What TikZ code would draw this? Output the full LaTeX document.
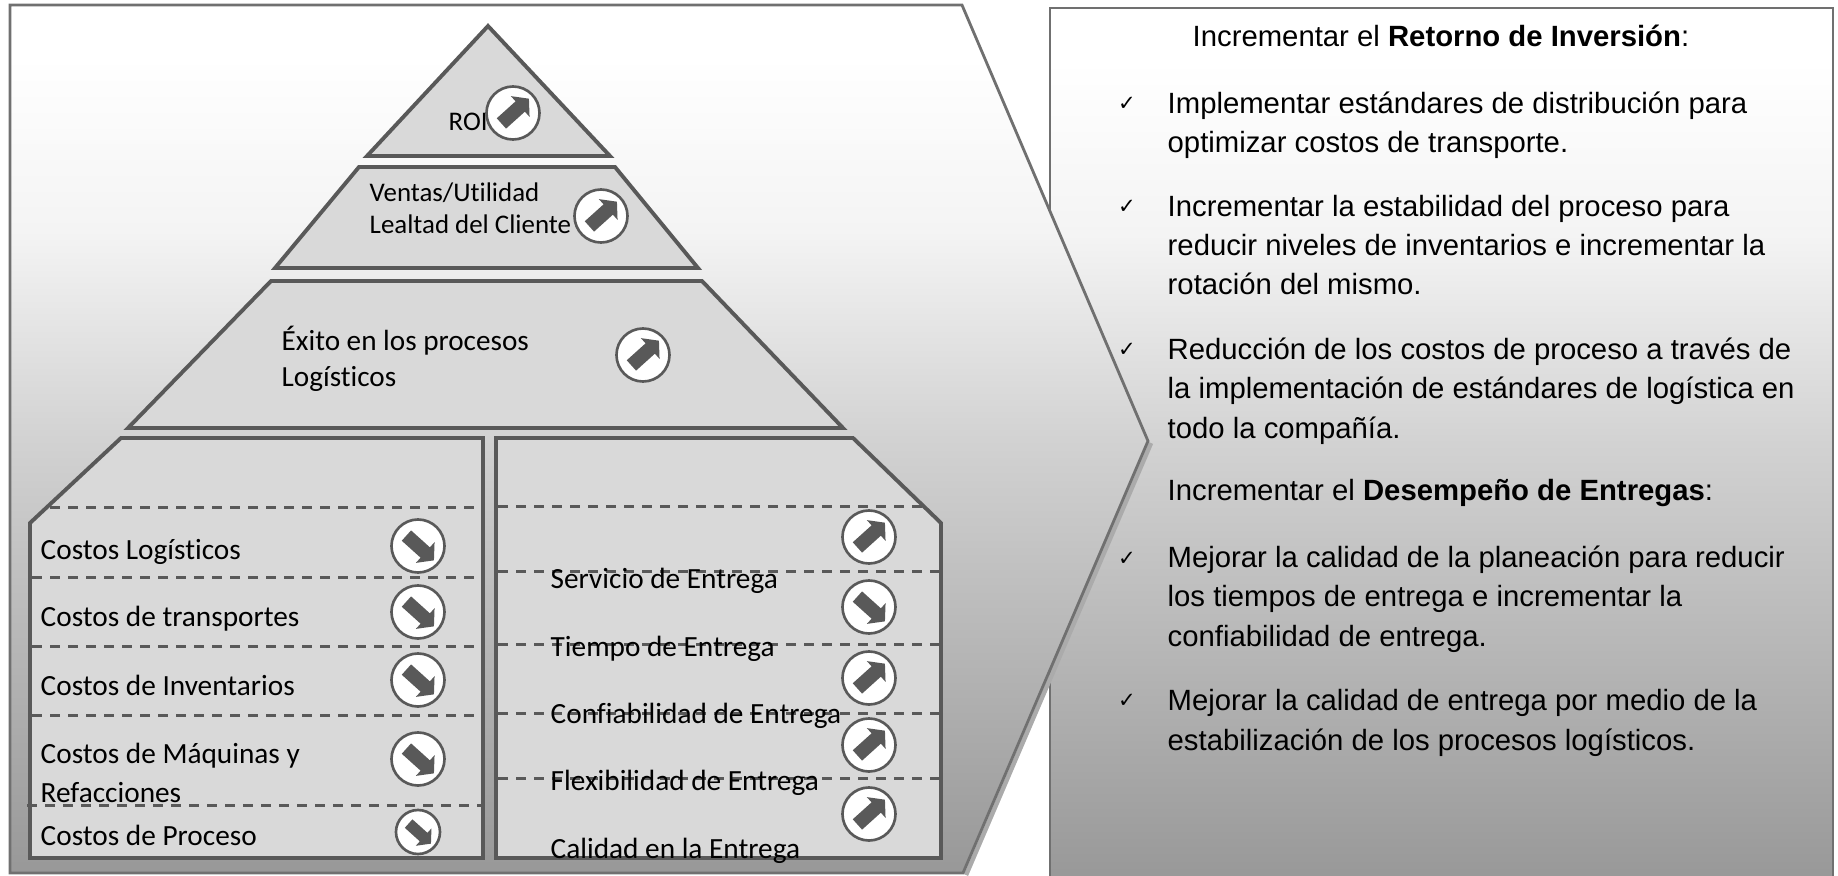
\documentclass[tikz,border=0pt]{standalone}
\usepackage{fontspec}
\setmainfont{Liberation Sans}
\newfontfamily\labelfont[Ligatures=NoCommon]{Carlito}
\newfontfamily\checkfont{DejaVu Sans}
\usetikzlibrary{shapes.arrows}

\definecolor{linegray}{HTML}{595959}
\definecolor{edgegray}{HTML}{707070}
\definecolor{fillgray}{HTML}{D9D9D9}
\definecolor{shadowgray}{HTML}{ABABAB}
\definecolor{fadetop}{HTML}{FFFFFF}
\definecolor{fadeup}{HTML}{F4F4F4}
\definecolor{fademid}{HTML}{D2D2D2}
\definecolor{fadelow}{HTML}{989898}
\pgfdeclareverticalshading{panelfade}{100bp}{color(0bp)=(fadelow); color(25bp)=(fadelow); color(50bp)=(fademid); color(62bp)=(fadeup); color(72bp)=(fadetop); color(100bp)=(fadetop)}

\tikzset{
  panel/.style={draw=edgegray, line width=.8pt, shading=panelfade},
  block/.style={draw=linegray, line width=1.1pt, fill=fillgray, line join=miter},
  divider/.style={draw=linegray, line width=.85pt, dash pattern=on 2.85pt off 2.27pt},
  label/.style={font=\labelfont\fontsize{8.33}{11.3}\selectfont, anchor=west, align=left, inner sep=0pt},
  toplabel/.style={label, font=\labelfont\fontsize{7.65}{9.2}\selectfont},
  para/.style={font=\fontsize{8.33}{11.2}\selectfont, anchor=west, align=left, inner sep=0pt},
  tick/.style={font=\checkfont\fontsize{6}{6}\selectfont, inner sep=0pt},
  badge/.style={circle, draw=linegray, line width=.75pt, fill=white, minimum size=.53cm, inner sep=0pt},
  smallbadge/.style={badge, minimum size=.44cm},
  trend/.style={single arrow, fill=linegray, inner sep=0pt, text height=.125cm, text depth=0pt, text width=0pt, minimum width=.27cm, minimum height=.37cm, single arrow tip angle=100, single arrow head extend=.07cm},
}

\begin{document}
\begin{tikzpicture}[x=.01cm, y=-.01cm]
  \useasboundingbox (0,0) rectangle (1838,875);

  % define the coordinates
  \coordinate (TL) at (10,5);
  \coordinate (TR) at (962,5);
  \coordinate (Tip) at (1148,441);
  \coordinate (BR) at (963,873);
  \coordinate (BL) at (10,873);

  % draw the panels
  \draw[panel] (1050,8) rectangle (1833,880);
  \draw[shadowgray, line width=1.3pt] ([shift={(3,2)}]Tip) -- ([shift={(3,2)}]BR);
  \draw[panel] (TL) -- (TR) -- (Tip) -- (BR) -- (BL) -- cycle;

  % draw the pyramid
  \draw[block] (488,26) -- (610,156) -- (367,156) -- cycle;
  \draw[block] (359,167) -- (615,167) -- (698,268) -- (275,268) -- cycle;
  \draw[block] (271,281) -- (702,281) -- (843,428) -- (128,428) -- cycle;
  \draw[block] (121,438) -- (483,438) -- (483,858) -- (30,858) -- (30,523) -- cycle;
  \draw[block] (496,438) -- (853,438) -- (941,523) -- (941,858) -- (496,858) -- cycle;

  % draw the dashed lines
  \coordinate (A1) at (50,507);   \coordinate (A2) at (481,507);
  \coordinate (B1) at (32,577);   \coordinate (B2) at (481,577);
  \coordinate (C1) at (32,646);   \coordinate (C2) at (481,646);
  \coordinate (D1) at (32,715);   \coordinate (D2) at (481,715);
  \coordinate (E1) at (27,805);   \coordinate (E2) at (481,805);
  \coordinate (F1) at (498,506);  \coordinate (F2) at (925,506);
  \coordinate (G1) at (498,571);  \coordinate (G2) at (939,571);
  \coordinate (H1) at (498,644);  \coordinate (H2) at (939,644);
  \coordinate (I1) at (498,713);  \coordinate (I2) at (939,713);
  \coordinate (J1) at (498,778);  \coordinate (J2) at (939,778);
  \draw[divider] (A1) -- (A2);
  \draw[divider] (B1) -- (B2);
  \draw[divider] (C1) -- (C2);
  \draw[divider] (D1) -- (D2);
  \draw[divider] (E1) -- (E2);
  \draw[divider] (F1) -- (F2);
  \draw[divider] (G1) -- (G2);
  \draw[divider] (H1) -- (H2);
  \draw[divider] (I1) -- (I2);
  \draw[divider] (J1) -- (J2);

  % labels of the pyramid
  \node[toplabel] (roi) at (448,122) {ROI};
  \node[toplabel] (ventas) at (369,208) {Ventas/Utilidad\\Lealtad del Cliente};
  \node[label, font=\labelfont\fontsize{8.3}{10.4}\selectfont] (exito) at (281,359) {Éxito en los procesos\\Logísticos};
  \node[label] (logisticos) at (40,552) {Costos Logísticos};
  \node[label] (transportes) at (40,619) {Costos de transportes};
  \node[label] (inventarios) at (40,685) {Costos de Inventarios};
  \node[label] (maquinas) at (40,773) {Costos de Máquinas y\\Refacciones};
  \node[label] (proceso) at (40,835) {Costos de Proceso};
  \node[label] (servicio) at (550,581) {Servicio de Entrega};
  \node[label] (tiempo) at (550,649) {Tiempo de Entrega};
  \node[label] (confiabilidad) at (550,716) {Confiabilidad de Entrega};
  \node[label] (flexibilidad) at (550,783) {Flexibilidad de Entrega};
  \node[label] (calidad) at (550,851) {Calidad en la Entrega};

  % badges with the arrows
  \node[badge] (b1) at (513,113) {};
  \node[trend, rotate=42] at (b1) {};
  \node[badge] (b2) at (601,216) {};
  \node[trend, rotate=42] at (b2) {};
  \node[badge] (b3) at (643,355) {};
  \node[trend, rotate=42] at (b3) {};
  \node[badge] (l1) at (418,546) {};
  \node[trend, rotate=-42] at (l1) {};
  \node[badge] (l2) at (418,612) {};
  \node[trend, rotate=-42] at (l2) {};
  \node[badge] (l3) at (418,680) {};
  \node[trend, rotate=-42] at (l3) {};
  \node[badge] (l4) at (418,759) {};
  \node[trend, rotate=-42] at (l4) {};
  \node[smallbadge] (l5) at (418,832) {};
  \node[trend, rotate=-42, text height=.1cm, minimum width=.22cm, minimum height=.3cm, single arrow head extend=.06cm] at (l5) {};
  \node[badge] (r1) at (869,537) {};
  \node[trend, rotate=42] at (r1) {};
  \node[badge] (r2) at (869,607) {};
  \node[trend, rotate=-42] at (r2) {};
  \node[badge] (r3) at (869,678) {};
  \node[trend, rotate=42] at (r3) {};
  \node[badge] (r4) at (869,745) {};
  \node[trend, rotate=42] at (r4) {};
  \node[badge] (r5) at (869,814) {};
  \node[trend, rotate=42] at (r5) {};

  % text of the right panel
  \node[para] (retorno) at (1192,36) {Incrementar el \textbf{Retorno de Inversión}:};
  \node[tick] (t1) at (1127,104) {✓};
  \node[para] (p1) at (1167,125) {Implementar estándares de distribución para\\optimizar costos de transporte.};
  \node[tick] (t2) at (1127,207) {✓};
  \node[para] (p2) at (1167,245) {Incrementar la estabilidad del proceso para\\reducir niveles de inventarios e incrementar la\\rotación del mismo.};
  \node[tick] (t3) at (1127,350) {✓};
  \node[para] (p3) at (1167,391) {Reducción de los costos de proceso a través de\\la implementación de estándares de logística en\\todo la compañía.};
  \node[para] (desempeno) at (1167,493) {Incrementar el \textbf{Desempeño de Entregas}:};
  \node[tick] (t4) at (1127,559) {✓};
  \node[para] (p4) at (1167,599) {Mejorar la calidad de la planeación para reducir\\los tiempos de entrega e incrementar la\\confiabilidad de entrega.};
  \node[tick] (t5) at (1127,701) {✓};
  \node[para] (p5) at (1167,723) {Mejorar la calidad de entrega por medio de la\\estabilización de los procesos logísticos.};
\end{tikzpicture}
\end{document}
